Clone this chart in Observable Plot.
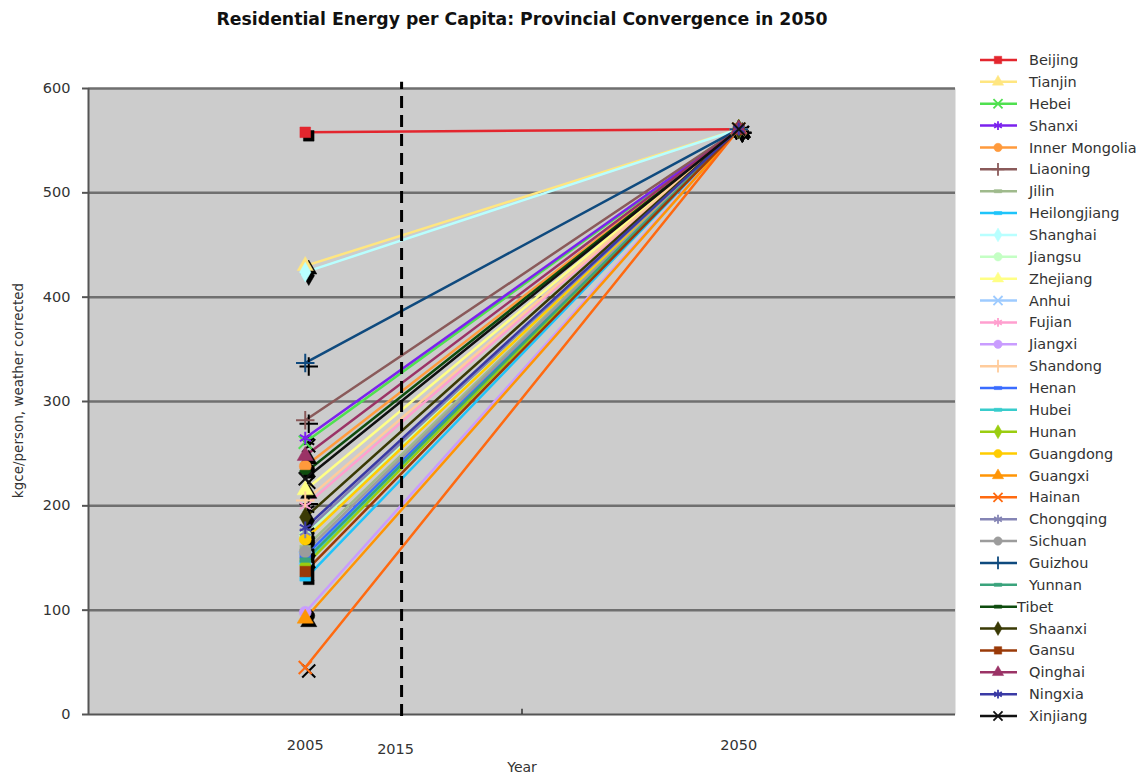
<!DOCTYPE html>
<html><head><meta charset="utf-8">
<script src="https://cdn.jsdelivr.net/npm/d3@7"></script>
<script src="https://cdn.jsdelivr.net/npm/@observablehq/plot@0.6"></script>
<style>
body{margin:0;background:#fff;font-family:"DejaVu Sans",Verdana,sans-serif;}
#wrap{position:relative;width:1141px;height:777px;overflow:hidden}
#title{height:40px;width:1044px;text-align:center;font-weight:bold;font-size:17.3px;line-height:38px;color:#111}
#chart svg{display:block}
#legend{position:absolute;left:0;top:0}
</style></head><body>
<div id="wrap">
<div id="title">Residential Energy per Capita: Provincial Convergence in 2050</div>
<div id="chart"></div>
<svg id="legend" width="1141" height="777"></svg>
</div>
<script>
const provinces = ["Beijing","Tianjin","Hebei","Shanxi","Inner Mongolia","Liaoning","Jilin","Heilongjiang","Shanghai","Jiangsu","Zhejiang","Anhui","Fujian","Jiangxi","Shandong","Henan","Hubei","Hunan","Guangdong","Guangxi","Hainan","Chongqing","Sichuan","Guizhou","Yunnan","Tibet","Shaanxi","Gansu","Qinghai","Ningxia","Xinjiang"];
const energy2005 = [558,430,261,265,238,282,160,130,424,172,215,150,200,98,205,152,146,143,168,92,45,175,156,337,148,232,189,137,248,179,226];
const energy2050 = [561,561,561,561,561,561,561,561,561,561,561,561,561,561,561,561,561,561,561,561,561,561,561,561,561,561,561,561,561,561,561];
const colors = ["#e3262e","#ffe680","#4fe04f","#7b22ee","#ff9a3c","#8a5a5a","#9fba8c","#1ec4fa","#b8ffff","#c4ffc4","#ffff85","#9ecbff","#ff9fcf","#c99cff","#ffcc9c","#3a6cff","#38cccc","#9acd10","#ffcc00","#ff9505","#ff6a10","#8585b5","#9c9c9c","#0f4a7e","#3aa37c","#0e4c0e","#3a3a05","#9a3a08","#9b3366","#3a3aa5","#111111"];
const markers = ["square","triangle","times","asterisk","circle","plus","dash","dash","diamond","circle","triangle","times","asterisk","circle","plus","dash","dash","diamond","circle","triangle","times","asterisk","circle","plus","dash","dash","diamond","square","triangle","asterisk","times"];
const years = [2005, 2050];
const markerYear = 2015;
const yTicks = [0,100,200,300,400,500,600];
const xDomain = [1982.5, 2072.5];
const xBoundaryTicks = [2027.5];

const font = '"DejaVu Sans",Verdana,sans-serif';
const dashSym = {draw(ctx, size){ const r = Math.sqrt(size/Math.PI); ctx.rect(-r*0.9, -r*0.38, r*1.8, r*0.76); }};
const sym = m => m === "dash" ? dashSym : m;
const isFilled = m => ["square","triangle","circle","diamond","dash"].includes(m);

const rows = [];
provinces.forEach((p,i)=>{
  rows.push({name:p, year:years[0], value:energy2005[i], color:colors[i], marker:markers[i]});
  rows.push({name:p, year:years[1], value:energy2050[i], color:colors[i], marker:markers[i]});
});

const shadowMarks = [], dotMarks = [];
provinces.forEach((p,i)=>{
  const d = rows.filter(r=>r.name===p);
  const f = isFilled(markers[i]);
  shadowMarks.push(Plot.dot(d,{x:"year",y:"value",symbol:sym(markers[i]),r:6,dx:3.5,dy:3.5,
    fill: f ? "#000" : "none", stroke:"#000", strokeWidth: f?0.5:2}));
  dotMarks.push(Plot.dot(d,{x:"year",y:"value",symbol:sym(markers[i]),r:6,
    fill: f ? colors[i] : "none", stroke:colors[i], strokeWidth: f?0.5:2}));
});

const chart = Plot.plot({
  width:1141, height:737,
  marginLeft:88, marginRight:186, marginTop:48, marginBottom:63,
  style:{fontFamily:font, background:"transparent", overflow:"visible"},
  x:{domain:xDomain, axis:null},
  y:{domain:[0,600], axis:null},
  color:{type:"identity"},
  marks:[
    Plot.frame({fill:"#cccccc", stroke:"none"}),
    Plot.ruleY(yTicks.slice(1), {stroke:"#6f6f6f", strokeWidth:2.5}),
    Plot.ruleY([0], {stroke:"#555", strokeWidth:2}),
    Plot.ruleX([xDomain[0]], {stroke:"#555", strokeWidth:2}),
    Plot.axisY({ticks:yTicks, tickSize:6, tickPadding:12, fontSize:14.5, stroke:"#555", strokeWidth:2, color:"#333", label:null, tickFormat:d=>String(d)}),
    Plot.text(["kgce/person, weather corrected"], {frameAnchor:"left", textAnchor:"middle", dx:-70, dy:-11, rotate:-90, fontSize:13.5, fill:"#333"}),
    Plot.ruleX(xBoundaryTicks, {y1:0, y2:5, stroke:"#333", strokeWidth:1.5}),
    Plot.axisX({ticks:years, tickSize:0, tickPadding:25, fontSize:14.5, color:"#333", label:null, tickFormat:d=>String(d)}),
    Plot.axisX({ticks:[markerYear], tickSize:0, tickPadding:29, fontSize:14.5, color:"#333", label:null, tickFormat:d=>String(d), dx:-6}),
    Plot.text(["Year"], {frameAnchor:"bottom", dy:57, fontSize:14, fill:"#333"}),
    Plot.line(rows, {x:"year", y:"value", z:"name", stroke:"color", strokeWidth:2.5}),
    ...shadowMarks,
    ...dotMarks,
    Plot.ruleX([markerYear], {y1:-2, y2:606, stroke:"#000", strokeWidth:3, strokeDasharray:"12,7"})
  ]
});
document.getElementById("chart").appendChild(chart);

// legend
const lg = d3.select("#legend");
const d3sym = {square:d3.symbolSquare, triangle:d3.symbolTriangle, circle:d3.symbolCircle, diamond:d3.symbolDiamond,
  times:d3.symbolTimes, plus:d3.symbolPlus, asterisk:d3.symbolAsterisk, dash:dashSym};
const step = (716-60)/(provinces.length-1);
provinces.forEach((p,i)=>{
  const y = 60 + i*step;
  const g = lg.append("g");
  g.append("line").attr("x1",980).attr("x2",1017).attr("y1",y).attr("y2",y).attr("stroke",colors[i]).attr("stroke-width",2.5);
  const f = isFilled(markers[i]);
  g.append("path").attr("transform",`translate(998,${y})`)
    .attr("d", d3.symbol(d3sym[markers[i]], Math.PI*4.2*4.2)())
    .attr("fill", f?colors[i]:"none").attr("stroke",colors[i]).attr("stroke-width",f?0.5:1.8);
  g.append("text").attr("x", p==="Tibet"?1017:1029).attr("y",y).attr("dy","0.35em")
    .attr("font-size",14.5).attr("fill","#333").attr("font-family",font).text(p);
});
</script>
</body></html>
